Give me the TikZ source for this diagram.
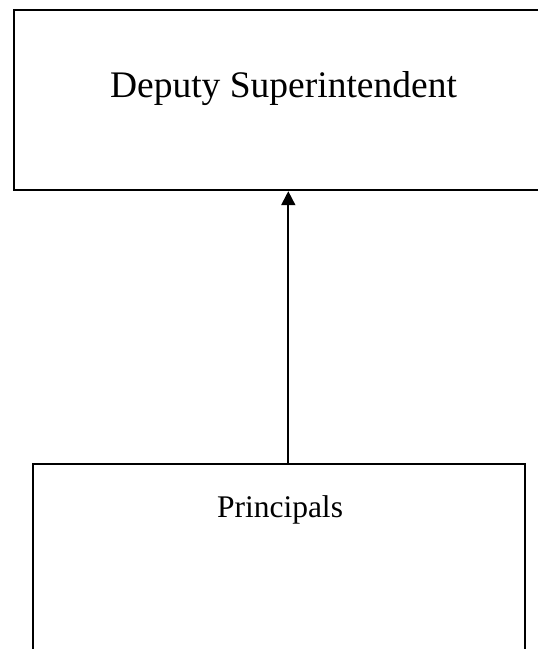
\documentclass[tikz,border=0pt]{standalone}
\usepackage{fontspec}
\setmainfont{Liberation Serif}
\usetikzlibrary{arrows.meta}
\begin{document}
\begin{tikzpicture}[x=1pt,y=1pt,
  boxnode/.style={draw=black, line width=1.8pt, inner sep=0pt, fill=none},
  txt/.style={inner sep=0pt, anchor=base},
  conn/.style={line width=1.8pt, -{Triangle[length=14pt,width=14pt]}}]
\useasboundingbox (0,0) rectangle (538,649);
% top box: x 14..562, y_img 9.7..190.3
\node[boxnode, minimum width=548pt, minimum height=180.6pt] (dep) at (288,549) {};
\node[txt, font=\fontsize{37.5}{42}\selectfont] (deptext) at (283.5,551.7) {Deputy Superintendent};
% bottom box: x 33.3..524.7, y_img 464.3..680
\node[boxnode, minimum width=491.4pt, minimum height=215.7pt] (pri) at (279,77) {};
\node[txt, font=\fontsize{31.5}{36}\selectfont] (pritext) at (280,131.7) {Principals};
\coordinate (ax) at (288.3,0);
\draw[conn] (ax |- pri.north) -- (ax |- dep.south);
\end{tikzpicture}
\end{document}
